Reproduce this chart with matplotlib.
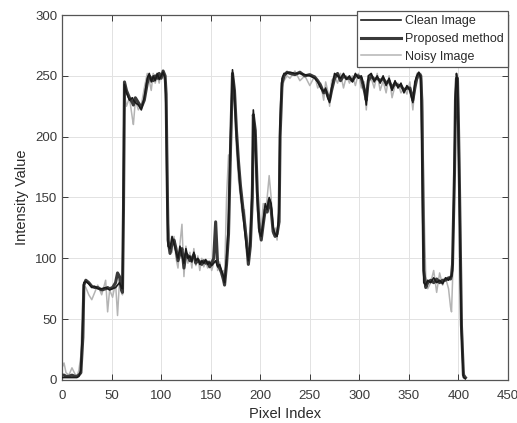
import matplotlib
matplotlib.use('Agg')
import matplotlib.pyplot as plt

plt.rcParams['font.family'] = ['Liberation Sans', 'DejaVu Sans']

# pixel positions along the scan line (shared by all three series)
pixel_idx = [0, 2, 4, 7, 10, 13, 15, 17, 19, 21,
             22, 24, 27, 30, 33, 36, 40, 44, 46, 48, 51, 54, 56, 58, 60, 61,
             62, 63, 65, 68, 71, 72, 74, 77, 80, 83, 86, 88, 90, 92, 94, 96, 98, 100, 102, 104,
             105, 106, 107, 109, 111, 113, 115, 117, 119, 121, 123, 125, 127, 129, 131, 133, 135,
             137, 139, 141, 143, 145, 147, 149, 151, 153, 155, 157, 159, 161, 163, 164, 166, 168,
             170, 172, 174, 176, 178, 180, 182, 184, 186, 188, 190, 192, 193, 195, 197, 199, 201,
             203, 205, 207, 209, 211, 213, 215, 217, 219, 220,
             222, 224, 227, 230, 235, 240, 245, 250, 255, 258, 261, 264, 266, 268, 270, 272, 275,
             278, 281, 284, 287, 290, 293, 296, 299, 302, 305, 307, 309, 312, 315, 318, 321, 324,
             327, 330, 333, 336, 339, 342, 345, 348, 351, 354, 356, 358, 360, 362,
             363, 364, 365, 367, 369, 372, 375, 378, 381, 384, 387, 390, 392, 393, 394, 396, 397,
             398, 399, 400, 401, 402, 403, 405, 407]

clean_vals = [2, 2, 2, 2, 2, 2, 2, 3, 8, 50,
              80, 81, 79, 76, 77, 75, 75, 76, 75, 74, 75, 76, 78, 80, 76, 75,
              160, 243, 236, 230, 232, 230, 228, 226, 222, 232, 248, 252, 245, 250, 246, 252, 247, 250, 253, 248,
              220, 150, 110, 108, 118, 112, 105, 100, 110, 102, 96, 108, 100, 102, 97, 105, 98,
              100, 95, 98, 96, 99, 95, 97, 94, 96, 98, 93, 95, 90, 85, 80, 100, 130,
              200, 255, 235, 200, 175, 155, 140, 125, 110, 98, 115, 160, 222, 200, 150, 122, 118,
              130, 145, 140, 150, 145, 125, 120, 118, 140, 210,
              248, 252, 252, 253, 252, 252, 251, 250, 248, 245, 240, 237, 240, 232, 228, 240, 252,
              250, 248, 252, 247, 250, 245, 252, 248, 250, 240, 226, 250, 252, 245, 250, 244, 250,
              242, 248, 238, 246, 240, 244, 236, 242, 238, 228, 245, 250, 253, 248,
              200, 130, 80, 78, 82, 80, 84, 80, 82, 79, 84, 82, 85, 85, 90, 180, 235,
              252, 245, 200, 150, 90, 40, 2, 1]

proposed_vals = [4, 4, 3, 3, 4, 3, 3, 4, 6, 35,
                 78, 82, 80, 77, 76, 76, 74, 75, 76, 75, 76, 80, 88, 85, 74, 72,
                 140, 245, 238, 232, 228, 226, 232, 228, 224, 230, 244, 250, 248, 246, 250, 248, 252, 248, 254, 250,
                 235, 170, 115, 104, 112, 115, 108, 98, 104, 108, 92, 104, 102, 98, 100, 103, 96,
                 99, 97, 95, 98, 96, 97, 93, 96, 100, 130, 95, 92, 88, 82, 78, 95, 120,
                 190, 252, 238, 205, 180, 160, 145, 130, 115, 95, 110, 150, 218, 205, 155, 125, 115,
                 128, 140, 138, 148, 140, 122, 118, 120, 130, 200,
                 244, 250, 253, 252, 251, 253, 250, 251, 249, 246, 242, 236, 238, 234, 230, 238, 248,
                 252, 246, 250, 248, 248, 246, 250, 250, 248, 238, 230, 246, 250, 247, 248, 246, 248,
                 244, 246, 240, 244, 242, 242, 238, 240, 240, 230, 240, 248, 252, 250,
                 230, 160, 90, 76, 80, 82, 80, 83, 80, 82, 82, 84, 83, 86, 95, 170, 230,
                 248, 248, 210, 160, 100, 45, 4, 2]

noisy_vals = [10, 14, 6, 4, 10, 5, 3, 8, 20, 70,
              78, 76, 70, 66, 72, 78, 70, 82, 56, 74, 68, 80, 53, 82, 72, 70,
              200, 235, 225, 232, 215, 210, 230, 222, 226, 240, 252, 246, 238, 252, 244, 250, 244, 252, 250, 246,
              240, 200, 130, 112, 105, 118, 100, 92, 112, 128, 85, 110, 96, 105, 92, 108, 94,
              102, 90, 100, 93, 97, 92, 98, 90, 96, 120, 90, 97, 86, 90, 84, 150, 185,
              180, 240, 230, 190, 165, 150, 135, 140, 120, 105, 130, 170, 210, 190, 140, 130, 125,
              145, 135, 150, 168, 150, 120, 125, 115, 150, 225,
              240, 246, 250, 248, 254, 246, 250, 242, 250, 240, 244, 230, 245, 238, 225, 246, 250,
              244, 252, 240, 250, 244, 250, 242, 252, 240, 245, 222, 244, 248, 240, 252, 238, 246,
              236, 250, 232, 242, 244, 236, 240, 235, 245, 222, 240, 252, 248, 252,
              245, 220, 150, 85, 75, 80, 90, 72, 88, 78, 84, 75, 60, 56, 80, 160, 220,
              245, 250, 230, 180, 120, 60, 8, 2]

fig = plt.figure(figsize=(5.17, 4.23), dpi=100)
ax = fig.add_axes([0.12, 0.1017, 0.8626, 0.8628])

ax.plot(pixel_idx, clean_vals, color='#1a1a1a', lw=1.2, label='Clean Image', zorder=4)
ax.plot(pixel_idx, proposed_vals, color='#3a3a3a', lw=2.2, label='Proposed method', zorder=3)
ax.plot(pixel_idx, noisy_vals, color='#b4b4b4', lw=1.1, label='Noisy Image', zorder=2)

ax.set_xlim(0, 450)
ax.set_ylim(0, 300)
ax.set_xticks(range(0, 451, 50))
ax.set_yticks(range(0, 301, 50))
ax.grid(True, color='#e2e2e2', lw=0.7)
ax.set_axisbelow(True)
ax.tick_params(direction='in', length=4, top=True, right=True, labelsize=9.5,
               colors='#3a3a3a', width=0.7)
ax.tick_params(axis='x', pad=7)
for s in ax.spines.values():
    s.set_color('#555555')
    s.set_linewidth(0.9)

ax.set_xlabel('Pixel Index', fontsize=10.5, color='#2a2a2a', labelpad=4)
ax.set_ylabel('Intensity Value', fontsize=10.5, color='#2a2a2a', labelpad=4)

leg = ax.legend(loc='upper right', bbox_to_anchor=(1.0, 1.011), borderaxespad=0,
                fontsize=9, fancybox=False, framealpha=1, edgecolor='#555555',
                handlelength=3.2, handletextpad=0.3, labelspacing=0.45, borderpad=0.35)
leg.get_frame().set_linewidth(0.9)
for t in leg.get_texts():
    t.set_color('#2a2a2a')

fig.savefig('out.png', dpi=100)
